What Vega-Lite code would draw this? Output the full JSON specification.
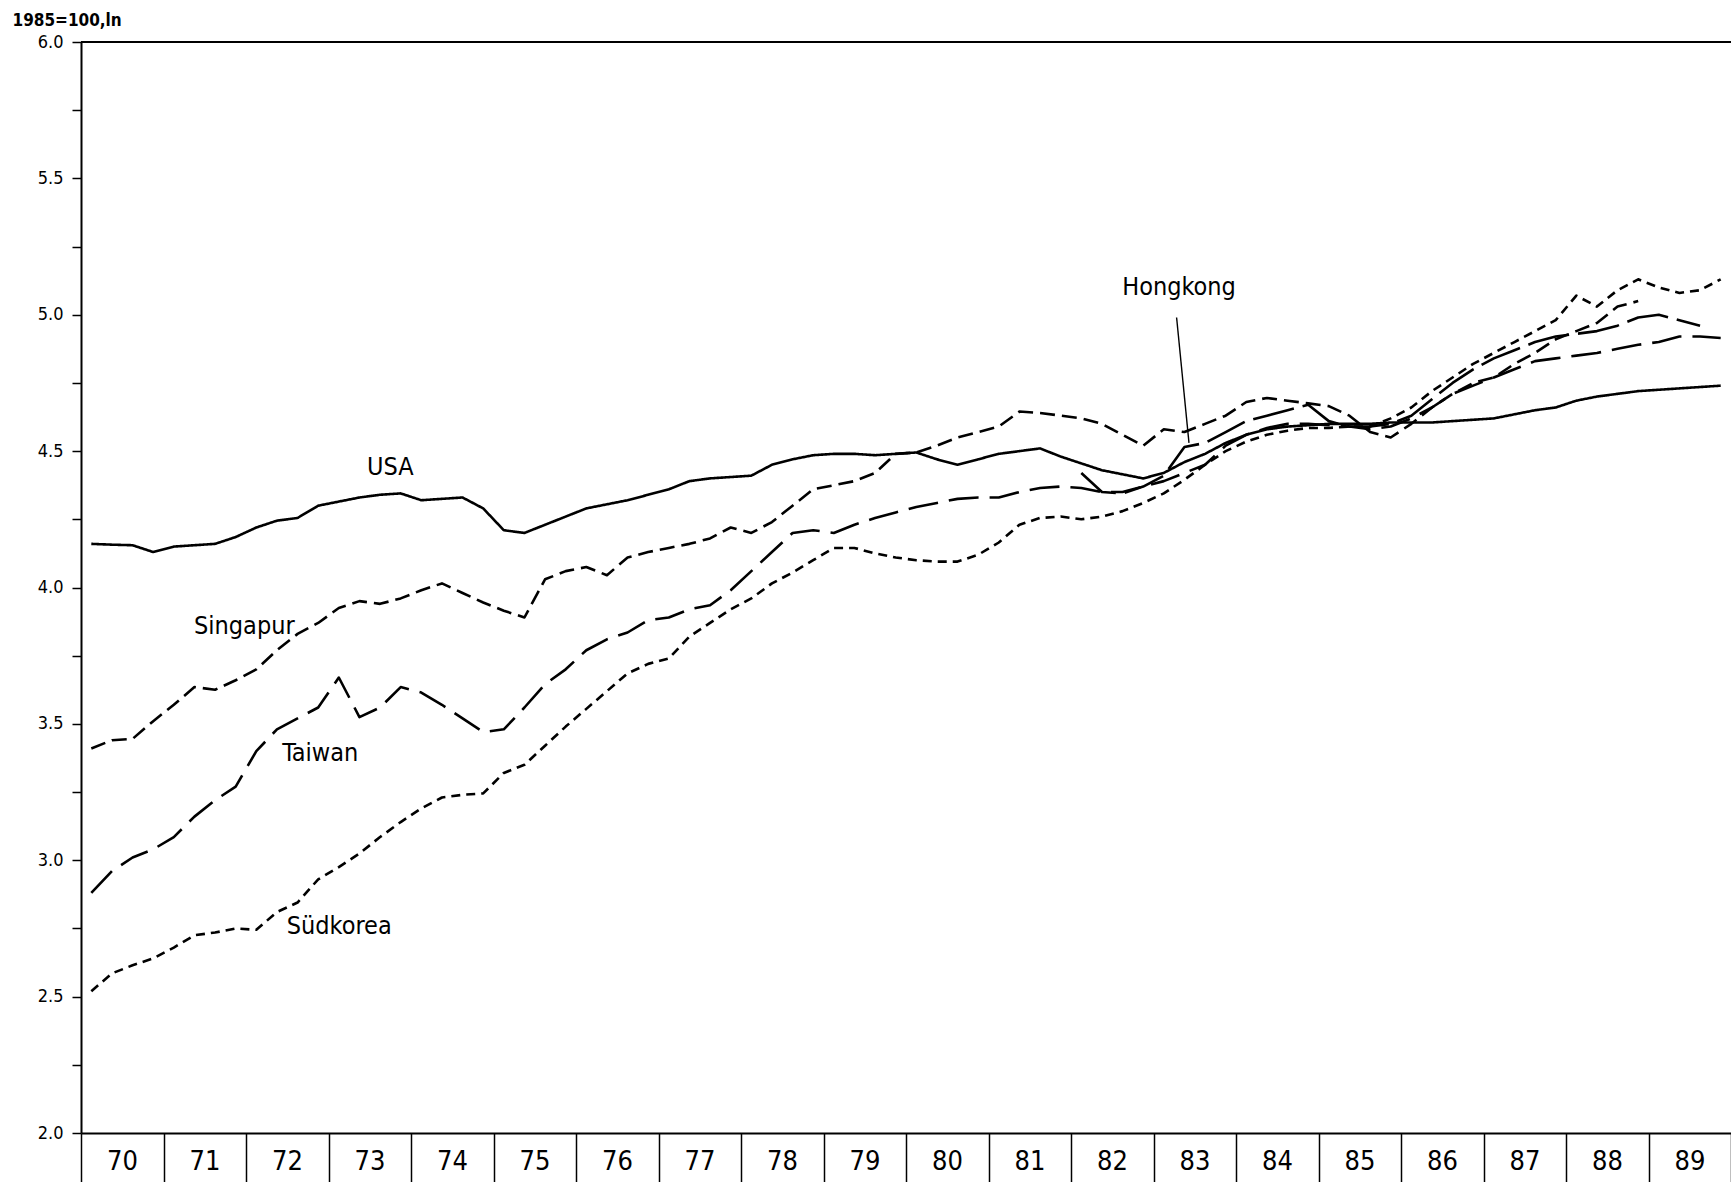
{
  "$schema": "https://vega.github.io/schema/vega-lite/v6.json",
  "width": 1650,
  "height": 1091,
  "autosize": "none",
  "padding": {"left": 81, "top": 42, "right": 0, "bottom": 49},
  "background": "white",
  "config": {"view": {"stroke": null}},
  "encoding": {
    "x": {"field": "t", "type": "quantitative", "scale": {"domain": [1970, 1990], "nice": false, "zero": false},
      "axis": {"title": null, "values": [1970,1971,1972,1973,1974,1975,1976,1977,1978,1979,1980,1981,1982,1983,1984,1985,1986,1987,1988,1989,1990],
        "labelExpr": "datum.value < 1990 ? format(datum.value - 1900, 'd') : ''",
        "tickSize": 49, "tickWidth": 1.5, "tickColor": "black", "domainColor": "black", "domainWidth": 2,
        "labelOffset": 41, "labelPadding": -21, "labelBaseline": "middle", "labelAlign": "center",
        "labelFont": "DejaVu Sans Condensed", "labelFontSize": 27, "labelColor": "black", "labelFlush": false, "labelOverlap": false, "labelBound": false, "grid": false}},
    "y": {"field": "v", "type": "quantitative", "scale": {"domain": [2, 6], "nice": false, "zero": false},
      "axis": {"title": "1985=100,ln", "titleAngle": 0, "titleX": -69, "titleY": -13, "titleAlign": "left", "titleBaseline": "bottom",
        "titleFont": "DejaVu Sans Condensed", "titleFontSize": 17, "titleFontWeight": "bold", "titleColor": "black",
        "values": [2,2.25,2.5,2.75,3,3.25,3.5,3.75,4,4.25,4.5,4.75,5,5.25,5.5,5.75,6],
        "labelExpr": "(datum.value * 2) % 1 == 0 ? format(datum.value, '.1f') : ''",
        "tickSize": 9, "tickWidth": 1.5, "tickColor": "black", "domainColor": "black", "domainWidth": 2,
        "labelPadding": 9, "labelFont": "DejaVu Sans Condensed", "labelFontSize": 18, "labelFontWeight": "normal", "labelColor": "black", "labelOverlap": false, "labelFlush": false, "grid": false}}
  },
  "layer": [
    {
      "data": {"values": [{"t": 1970, "v": 6}, {"t": 1990, "v": 6}]},
      "mark": {"type": "line", "color": "black", "strokeWidth": 2}
    },
    {
      "data": {"values": [
{"c":"USA","t":1970.125,"v":4.16},{"c":"USA","t":1970.375,"v":4.157},{"c":"USA","t":1970.625,"v":4.155},{"c":"USA","t":1970.875,"v":4.13},
{"c":"USA","t":1971.125,"v":4.15},{"c":"USA","t":1971.375,"v":4.155},{"c":"USA","t":1971.625,"v":4.16},{"c":"USA","t":1971.875,"v":4.185},
{"c":"USA","t":1972.125,"v":4.22},{"c":"USA","t":1972.375,"v":4.245},{"c":"USA","t":1972.625,"v":4.255},{"c":"USA","t":1972.875,"v":4.3},
{"c":"USA","t":1973.125,"v":4.315},{"c":"USA","t":1973.375,"v":4.33},{"c":"USA","t":1973.625,"v":4.34},{"c":"USA","t":1973.875,"v":4.345},
{"c":"USA","t":1974.125,"v":4.32},{"c":"USA","t":1974.375,"v":4.325},{"c":"USA","t":1974.625,"v":4.33},{"c":"USA","t":1974.875,"v":4.29},
{"c":"USA","t":1975.125,"v":4.21},{"c":"USA","t":1975.375,"v":4.2},{"c":"USA","t":1975.625,"v":4.23},{"c":"USA","t":1975.875,"v":4.26},
{"c":"USA","t":1976.125,"v":4.29},{"c":"USA","t":1976.375,"v":4.305},{"c":"USA","t":1976.625,"v":4.32},{"c":"USA","t":1976.875,"v":4.34},
{"c":"USA","t":1977.125,"v":4.36},{"c":"USA","t":1977.375,"v":4.39},{"c":"USA","t":1977.625,"v":4.4},{"c":"USA","t":1977.875,"v":4.405},
{"c":"USA","t":1978.125,"v":4.41},{"c":"USA","t":1978.375,"v":4.45},{"c":"USA","t":1978.625,"v":4.47},{"c":"USA","t":1978.875,"v":4.485},
{"c":"USA","t":1979.125,"v":4.49},{"c":"USA","t":1979.375,"v":4.49},{"c":"USA","t":1979.625,"v":4.485},{"c":"USA","t":1979.875,"v":4.49},
{"c":"USA","t":1980.125,"v":4.495},{"c":"USA","t":1980.375,"v":4.47},{"c":"USA","t":1980.625,"v":4.45},{"c":"USA","t":1980.875,"v":4.47},
{"c":"USA","t":1981.125,"v":4.49},{"c":"USA","t":1981.375,"v":4.5},{"c":"USA","t":1981.625,"v":4.51},{"c":"USA","t":1981.875,"v":4.48},
{"c":"USA","t":1982.125,"v":4.455},{"c":"USA","t":1982.375,"v":4.43},{"c":"USA","t":1982.625,"v":4.415},{"c":"USA","t":1982.875,"v":4.4},
{"c":"USA","t":1983.125,"v":4.42},{"c":"USA","t":1983.375,"v":4.46},{"c":"USA","t":1983.625,"v":4.49},{"c":"USA","t":1983.875,"v":4.53},
{"c":"USA","t":1984.125,"v":4.56},{"c":"USA","t":1984.375,"v":4.58},{"c":"USA","t":1984.625,"v":4.59},{"c":"USA","t":1984.875,"v":4.595},
{"c":"USA","t":1985.125,"v":4.6},{"c":"USA","t":1985.375,"v":4.6},{"c":"USA","t":1985.625,"v":4.6},{"c":"USA","t":1985.875,"v":4.605},
{"c":"USA","t":1986.125,"v":4.605},{"c":"USA","t":1986.375,"v":4.605},{"c":"USA","t":1986.625,"v":4.61},{"c":"USA","t":1986.875,"v":4.615},
{"c":"USA","t":1987.125,"v":4.62},{"c":"USA","t":1987.375,"v":4.635},{"c":"USA","t":1987.625,"v":4.65},{"c":"USA","t":1987.875,"v":4.66},
{"c":"USA","t":1988.125,"v":4.685},{"c":"USA","t":1988.375,"v":4.7},{"c":"USA","t":1988.625,"v":4.71},{"c":"USA","t":1988.875,"v":4.72},
{"c":"USA","t":1989.125,"v":4.725},{"c":"USA","t":1989.375,"v":4.73},{"c":"USA","t":1989.625,"v":4.735},{"c":"USA","t":1989.875,"v":4.74},

{"c":"Singapur","t":1970.125,"v":3.41},{"c":"Singapur","t":1970.375,"v":3.44},{"c":"Singapur","t":1970.625,"v":3.445},{"c":"Singapur","t":1970.875,"v":3.51},
{"c":"Singapur","t":1971.125,"v":3.57},{"c":"Singapur","t":1971.375,"v":3.635},{"c":"Singapur","t":1971.625,"v":3.625},{"c":"Singapur","t":1971.875,"v":3.66},
{"c":"Singapur","t":1972.125,"v":3.7},{"c":"Singapur","t":1972.375,"v":3.77},{"c":"Singapur","t":1972.625,"v":3.83},{"c":"Singapur","t":1972.875,"v":3.87},
{"c":"Singapur","t":1973.125,"v":3.925},{"c":"Singapur","t":1973.375,"v":3.95},{"c":"Singapur","t":1973.625,"v":3.94},{"c":"Singapur","t":1973.875,"v":3.96},
{"c":"Singapur","t":1974.125,"v":3.99},{"c":"Singapur","t":1974.375,"v":4.015},{"c":"Singapur","t":1974.625,"v":3.98},{"c":"Singapur","t":1974.875,"v":3.945},
{"c":"Singapur","t":1975.125,"v":3.915},{"c":"Singapur","t":1975.375,"v":3.89},{"c":"Singapur","t":1975.625,"v":4.03},{"c":"Singapur","t":1975.875,"v":4.06},
{"c":"Singapur","t":1976.125,"v":4.075},{"c":"Singapur","t":1976.375,"v":4.045},{"c":"Singapur","t":1976.625,"v":4.11},{"c":"Singapur","t":1976.875,"v":4.13},
{"c":"Singapur","t":1977.125,"v":4.145},{"c":"Singapur","t":1977.375,"v":4.16},{"c":"Singapur","t":1977.625,"v":4.18},{"c":"Singapur","t":1977.875,"v":4.22},
{"c":"Singapur","t":1978.125,"v":4.2},{"c":"Singapur","t":1978.375,"v":4.24},{"c":"Singapur","t":1978.625,"v":4.3},{"c":"Singapur","t":1978.875,"v":4.36},
{"c":"Singapur","t":1979.125,"v":4.375},{"c":"Singapur","t":1979.375,"v":4.39},{"c":"Singapur","t":1979.625,"v":4.42},{"c":"Singapur","t":1979.875,"v":4.49},
{"c":"Singapur","t":1980.125,"v":4.495},{"c":"Singapur","t":1980.375,"v":4.52},{"c":"Singapur","t":1980.625,"v":4.55},{"c":"Singapur","t":1980.875,"v":4.57},
{"c":"Singapur","t":1981.125,"v":4.59},{"c":"Singapur","t":1981.375,"v":4.645},{"c":"Singapur","t":1981.625,"v":4.64},{"c":"Singapur","t":1981.875,"v":4.63},
{"c":"Singapur","t":1982.125,"v":4.62},{"c":"Singapur","t":1982.375,"v":4.6},{"c":"Singapur","t":1982.625,"v":4.56},{"c":"Singapur","t":1982.875,"v":4.52},
{"c":"Singapur","t":1983.125,"v":4.58},{"c":"Singapur","t":1983.375,"v":4.57},{"c":"Singapur","t":1983.625,"v":4.6},{"c":"Singapur","t":1983.875,"v":4.63},
{"c":"Singapur","t":1984.125,"v":4.68},{"c":"Singapur","t":1984.375,"v":4.695},{"c":"Singapur","t":1984.625,"v":4.685},{"c":"Singapur","t":1984.875,"v":4.675},
{"c":"Singapur","t":1985.125,"v":4.665},{"c":"Singapur","t":1985.375,"v":4.63},{"c":"Singapur","t":1985.625,"v":4.57},{"c":"Singapur","t":1985.875,"v":4.55},
{"c":"Singapur","t":1986.125,"v":4.6},{"c":"Singapur","t":1986.375,"v":4.66},{"c":"Singapur","t":1986.625,"v":4.71},{"c":"Singapur","t":1986.875,"v":4.75},
{"c":"Singapur","t":1987.125,"v":4.77},{"c":"Singapur","t":1987.375,"v":4.82},{"c":"Singapur","t":1987.625,"v":4.86},{"c":"Singapur","t":1987.875,"v":4.91},
{"c":"Singapur","t":1988.125,"v":4.94},{"c":"Singapur","t":1988.375,"v":4.97},{"c":"Singapur","t":1988.625,"v":5.03},{"c":"Singapur","t":1988.875,"v":5.05},

{"c":"Taiwan","t":1970.125,"v":2.88},{"c":"Taiwan","t":1970.375,"v":2.96},{"c":"Taiwan","t":1970.625,"v":3.01},{"c":"Taiwan","t":1970.875,"v":3.04},
{"c":"Taiwan","t":1971.125,"v":3.085},{"c":"Taiwan","t":1971.375,"v":3.16},{"c":"Taiwan","t":1971.625,"v":3.22},{"c":"Taiwan","t":1971.875,"v":3.27},
{"c":"Taiwan","t":1972.125,"v":3.4},{"c":"Taiwan","t":1972.375,"v":3.48},{"c":"Taiwan","t":1972.625,"v":3.52},{"c":"Taiwan","t":1972.875,"v":3.56},
{"c":"Taiwan","t":1973.125,"v":3.67},{"c":"Taiwan","t":1973.375,"v":3.525},{"c":"Taiwan","t":1973.625,"v":3.56},{"c":"Taiwan","t":1973.875,"v":3.635},
{"c":"Taiwan","t":1974.125,"v":3.615},{"c":"Taiwan","t":1974.375,"v":3.57},{"c":"Taiwan","t":1974.625,"v":3.52},{"c":"Taiwan","t":1974.875,"v":3.47},
{"c":"Taiwan","t":1975.125,"v":3.48},{"c":"Taiwan","t":1975.375,"v":3.56},{"c":"Taiwan","t":1975.625,"v":3.645},{"c":"Taiwan","t":1975.875,"v":3.7},
{"c":"Taiwan","t":1976.125,"v":3.77},{"c":"Taiwan","t":1976.375,"v":3.81},{"c":"Taiwan","t":1976.625,"v":3.835},{"c":"Taiwan","t":1976.875,"v":3.88},
{"c":"Taiwan","t":1977.125,"v":3.89},{"c":"Taiwan","t":1977.375,"v":3.92},{"c":"Taiwan","t":1977.625,"v":3.935},{"c":"Taiwan","t":1977.875,"v":3.99},
{"c":"Taiwan","t":1978.125,"v":4.06},{"c":"Taiwan","t":1978.375,"v":4.13},{"c":"Taiwan","t":1978.625,"v":4.2},{"c":"Taiwan","t":1978.875,"v":4.21},
{"c":"Taiwan","t":1979.125,"v":4.2},{"c":"Taiwan","t":1979.375,"v":4.23},{"c":"Taiwan","t":1979.625,"v":4.255},{"c":"Taiwan","t":1979.875,"v":4.275},
{"c":"Taiwan","t":1980.125,"v":4.295},{"c":"Taiwan","t":1980.375,"v":4.31},{"c":"Taiwan","t":1980.625,"v":4.325},{"c":"Taiwan","t":1980.875,"v":4.33},
{"c":"Taiwan","t":1981.125,"v":4.33},{"c":"Taiwan","t":1981.375,"v":4.35},{"c":"Taiwan","t":1981.625,"v":4.365},{"c":"Taiwan","t":1981.875,"v":4.37},
{"c":"Taiwan","t":1982.125,"v":4.365},{"c":"Taiwan","t":1982.375,"v":4.35},{"c":"Taiwan","t":1982.625,"v":4.35},{"c":"Taiwan","t":1982.875,"v":4.37},
{"c":"Taiwan","t":1983.125,"v":4.39},{"c":"Taiwan","t":1983.375,"v":4.42},{"c":"Taiwan","t":1983.625,"v":4.45},{"c":"Taiwan","t":1983.875,"v":4.52},
{"c":"Taiwan","t":1984.125,"v":4.56},{"c":"Taiwan","t":1984.375,"v":4.585},{"c":"Taiwan","t":1984.625,"v":4.6},{"c":"Taiwan","t":1984.875,"v":4.6},
{"c":"Taiwan","t":1985.125,"v":4.595},{"c":"Taiwan","t":1985.375,"v":4.59},{"c":"Taiwan","t":1985.625,"v":4.58},{"c":"Taiwan","t":1985.875,"v":4.59},
{"c":"Taiwan","t":1986.125,"v":4.62},{"c":"Taiwan","t":1986.375,"v":4.66},{"c":"Taiwan","t":1986.625,"v":4.71},{"c":"Taiwan","t":1986.875,"v":4.74},
{"c":"Taiwan","t":1987.125,"v":4.77},{"c":"Taiwan","t":1987.375,"v":4.8},{"c":"Taiwan","t":1987.625,"v":4.83},{"c":"Taiwan","t":1987.875,"v":4.84},
{"c":"Taiwan","t":1988.125,"v":4.85},{"c":"Taiwan","t":1988.375,"v":4.86},{"c":"Taiwan","t":1988.625,"v":4.875},{"c":"Taiwan","t":1988.875,"v":4.89},
{"c":"Taiwan","t":1989.125,"v":4.9},{"c":"Taiwan","t":1989.375,"v":4.92},{"c":"Taiwan","t":1989.625,"v":4.92},{"c":"Taiwan","t":1989.875,"v":4.915},

{"c":"Südkorea","t":1970.125,"v":2.52},{"c":"Südkorea","t":1970.375,"v":2.585},{"c":"Südkorea","t":1970.625,"v":2.615},{"c":"Südkorea","t":1970.875,"v":2.64},
{"c":"Südkorea","t":1971.125,"v":2.68},{"c":"Südkorea","t":1971.375,"v":2.725},{"c":"Südkorea","t":1971.625,"v":2.735},{"c":"Südkorea","t":1971.875,"v":2.75},
{"c":"Südkorea","t":1972.125,"v":2.745},{"c":"Südkorea","t":1972.375,"v":2.81},{"c":"Südkorea","t":1972.625,"v":2.845},{"c":"Südkorea","t":1972.875,"v":2.93},
{"c":"Südkorea","t":1973.125,"v":2.975},{"c":"Südkorea","t":1973.375,"v":3.025},{"c":"Südkorea","t":1973.625,"v":3.085},{"c":"Südkorea","t":1973.875,"v":3.14},
{"c":"Südkorea","t":1974.125,"v":3.19},{"c":"Südkorea","t":1974.375,"v":3.23},{"c":"Südkorea","t":1974.625,"v":3.24},{"c":"Südkorea","t":1974.875,"v":3.245},
{"c":"Südkorea","t":1975.125,"v":3.32},{"c":"Südkorea","t":1975.375,"v":3.35},{"c":"Südkorea","t":1975.625,"v":3.42},{"c":"Südkorea","t":1975.875,"v":3.49},
{"c":"Südkorea","t":1976.125,"v":3.555},{"c":"Südkorea","t":1976.375,"v":3.62},{"c":"Südkorea","t":1976.625,"v":3.685},{"c":"Südkorea","t":1976.875,"v":3.72},
{"c":"Südkorea","t":1977.125,"v":3.74},{"c":"Südkorea","t":1977.375,"v":3.82},{"c":"Südkorea","t":1977.625,"v":3.87},{"c":"Südkorea","t":1977.875,"v":3.92},
{"c":"Südkorea","t":1978.125,"v":3.96},{"c":"Südkorea","t":1978.375,"v":4.015},{"c":"Südkorea","t":1978.625,"v":4.055},{"c":"Südkorea","t":1978.875,"v":4.1},
{"c":"Südkorea","t":1979.125,"v":4.145},{"c":"Südkorea","t":1979.375,"v":4.145},{"c":"Südkorea","t":1979.625,"v":4.125},{"c":"Südkorea","t":1979.875,"v":4.11},
{"c":"Südkorea","t":1980.125,"v":4.1},{"c":"Südkorea","t":1980.375,"v":4.095},{"c":"Südkorea","t":1980.625,"v":4.095},{"c":"Südkorea","t":1980.875,"v":4.12},
{"c":"Südkorea","t":1981.125,"v":4.165},{"c":"Südkorea","t":1981.375,"v":4.23},{"c":"Südkorea","t":1981.625,"v":4.255},{"c":"Südkorea","t":1981.875,"v":4.26},
{"c":"Südkorea","t":1982.125,"v":4.25},{"c":"Südkorea","t":1982.375,"v":4.26},{"c":"Südkorea","t":1982.625,"v":4.28},{"c":"Südkorea","t":1982.875,"v":4.31},
{"c":"Südkorea","t":1983.125,"v":4.345},{"c":"Südkorea","t":1983.375,"v":4.395},{"c":"Südkorea","t":1983.625,"v":4.45},{"c":"Südkorea","t":1983.875,"v":4.5},
{"c":"Südkorea","t":1984.125,"v":4.535},{"c":"Südkorea","t":1984.375,"v":4.56},{"c":"Südkorea","t":1984.625,"v":4.575},{"c":"Südkorea","t":1984.875,"v":4.585},
{"c":"Südkorea","t":1985.125,"v":4.585},{"c":"Südkorea","t":1985.375,"v":4.59},{"c":"Südkorea","t":1985.625,"v":4.59},{"c":"Südkorea","t":1985.875,"v":4.62},
{"c":"Südkorea","t":1986.125,"v":4.66},{"c":"Südkorea","t":1986.375,"v":4.72},{"c":"Südkorea","t":1986.625,"v":4.77},{"c":"Südkorea","t":1986.875,"v":4.82},
{"c":"Südkorea","t":1987.125,"v":4.86},{"c":"Südkorea","t":1987.375,"v":4.9},{"c":"Südkorea","t":1987.625,"v":4.94},{"c":"Südkorea","t":1987.875,"v":4.98},
{"c":"Südkorea","t":1988.125,"v":5.07},{"c":"Südkorea","t":1988.375,"v":5.03},{"c":"Südkorea","t":1988.625,"v":5.09},{"c":"Südkorea","t":1988.875,"v":5.13},
{"c":"Südkorea","t":1989.125,"v":5.1},{"c":"Südkorea","t":1989.375,"v":5.08},{"c":"Südkorea","t":1989.625,"v":5.09},{"c":"Südkorea","t":1989.875,"v":5.13},

{"c":"Hongkong","t":1982.125,"v":4.42},{"c":"Hongkong","t":1982.375,"v":4.35},{"c":"Hongkong","t":1982.625,"v":4.345},{"c":"Hongkong","t":1982.875,"v":4.37},
{"c":"Hongkong","t":1983.125,"v":4.41},{"c":"Hongkong","t":1983.375,"v":4.515},{"c":"Hongkong","t":1983.625,"v":4.53},{"c":"Hongkong","t":1983.875,"v":4.57},
{"c":"Hongkong","t":1984.125,"v":4.61},{"c":"Hongkong","t":1984.375,"v":4.63},{"c":"Hongkong","t":1984.625,"v":4.65},{"c":"Hongkong","t":1984.875,"v":4.67},
{"c":"Hongkong","t":1985.125,"v":4.61},{"c":"Hongkong","t":1985.375,"v":4.59},{"c":"Hongkong","t":1985.625,"v":4.59},{"c":"Hongkong","t":1985.875,"v":4.6},
{"c":"Hongkong","t":1986.125,"v":4.63},{"c":"Hongkong","t":1986.375,"v":4.69},{"c":"Hongkong","t":1986.625,"v":4.75},{"c":"Hongkong","t":1986.875,"v":4.8},
{"c":"Hongkong","t":1987.125,"v":4.84},{"c":"Hongkong","t":1987.375,"v":4.87},{"c":"Hongkong","t":1987.625,"v":4.9},{"c":"Hongkong","t":1987.875,"v":4.92},
{"c":"Hongkong","t":1988.125,"v":4.93},{"c":"Hongkong","t":1988.375,"v":4.94},{"c":"Hongkong","t":1988.625,"v":4.96},{"c":"Hongkong","t":1988.875,"v":4.99},
{"c":"Hongkong","t":1989.125,"v":5.0},{"c":"Hongkong","t":1989.375,"v":4.98},{"c":"Hongkong","t":1989.625,"v":4.96}
      ]},
      "mark": {"type": "line", "color": "black", "strokeWidth": 2.6, "strokeCap": "butt", "strokeJoin": "round"},
      "encoding": {
        "detail": {"field": "c", "type": "nominal"},
        "strokeDash": {"field": "c", "type": "nominal", "legend": null,
          "scale": {"domain": ["USA", "Singapur", "Taiwan", "Südkorea", "Hongkong"],
                    "range": [[1, 0], [15, 7], [30, 11], [9, 6], [42, 9]]}}
      }
    },
    {
      "data": {"values": [
        {"label": "USA", "t": 1973.75, "v": 4.44},
        {"label": "Singapur", "t": 1971.98, "v": 3.86},
        {"label": "Taiwan", "t": 1972.9, "v": 3.395},
        {"label": "Südkorea", "t": 1973.13, "v": 2.76},
        {"label": "Hongkong", "t": 1983.31, "v": 5.1}
      ]},
      "mark": {"type": "text", "font": "DejaVu Sans Condensed", "fontSize": 25, "color": "black", "align": "center", "baseline": "middle"},
      "encoding": {"text": {"field": "label", "type": "nominal"}}
    },
    {
      "data": {"values": [{"t": 1983.28, "v": 4.99, "t2": 1983.43, "v2": 4.53}]},
      "mark": {"type": "rule", "color": "black", "strokeWidth": 1.4},
      "encoding": {"x2": {"field": "t2"}, "y2": {"field": "v2"}}
    }
  ]
}
